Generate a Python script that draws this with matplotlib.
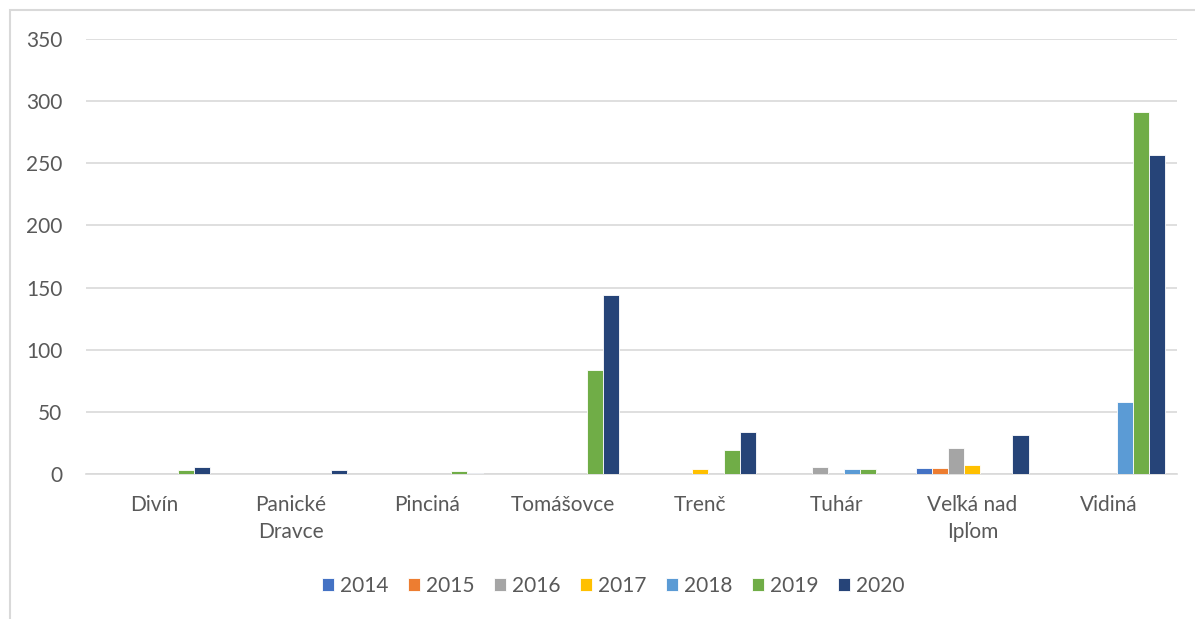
import numpy as np
import matplotlib.pyplot as plt
from matplotlib.patches import Rectangle

obce = ['Divín', 'Panické\nDravce', 'Pinciná', 'Tomášovce', 'Trenč',
        'Tuhár', 'Veľká nad\nIpľom', 'Vidiná']
roky = ['2014', '2015', '2016', '2017', '2018', '2019', '2020']

v2014 = [0, 0, 0, 0, 0, 0, 5, 0]
v2015 = [0, 0, 0, 0, 0.3, 0, 5, 0]
v2016 = [0, 0, 0, 0, 0, 6, 21, 0]
v2017 = [0, 0, 0, 0, 4, 0, 7, 0]
v2018 = [0, 0, 0, 0, 0, 4, 0, 58]
v2019 = [3, 0, 2.5, 84, 19, 4, 0, 291]
v2020 = [6, 3, 1, 144, 34, 0, 31, 257]

farby = ['#4472C4', '#ED7D31', '#A5A5A5', '#FFC000', '#5B9BD5', '#70AD47', '#264478']
hodnoty = [v2014, v2015, v2016, v2017, v2018, v2019, v2020]

plt.rcParams['font.family'] = ['Lato', 'DejaVu Sans']
sivá = '#595959'

fig = plt.figure(figsize=(11.95, 6.19), dpi=100)
# ramik grafu
fig.patches.append(Rectangle((10 / 1195, -0.1), 1.2, (619 - 10) / 619 + 0.1,
                             transform=fig.transFigure, fill=False,
                             edgecolor='#D9D9D9', linewidth=1.5))

ax = fig.add_axes([86 / 1195, (619 - 474) / 619, 1091 / 1195, 435 / 619])
x = np.arange(len(obce))
krok = 0.1175
for i, (rok, h, c) in enumerate(zip(roky, hodnoty, farby)):
    ax.bar(x + (i - 3) * krok, h, width=krok, color=c, edgecolor='white',
           linewidth=0.6, label=rok, zorder=3)

ax.set_xlim(-0.5, len(obce) - 0.5)
ax.set_ylim(0, 350)
ax.set_yticks(range(0, 351, 50))
ax.yaxis.grid(True, color='#D9D9D9', linewidth=1.2, zorder=0)
ax.set_xticks(x)
ax.set_xticklabels(obce, linespacing=1.45)
ax.tick_params(length=0, labelsize=15, colors=sivá)
ax.tick_params(axis='x', pad=15)
ax.tick_params(axis='y', pad=17)
for s in ['top', 'right', 'left']:
    ax.spines[s].set_visible(False)
ax.spines['bottom'].set_color('#D9D9D9')
ax.spines['bottom'].set_linewidth(1.2)

fig.legend(loc='center', bbox_to_anchor=(613 / 1195, (619 - 586) / 619),
           ncol=7, frameon=False, fontsize=15, labelcolor=sivá,
           handlelength=0.6, handleheight=0.6, handletextpad=0.25,
           columnspacing=0.95)

fig.savefig('out.png', dpi=100)
